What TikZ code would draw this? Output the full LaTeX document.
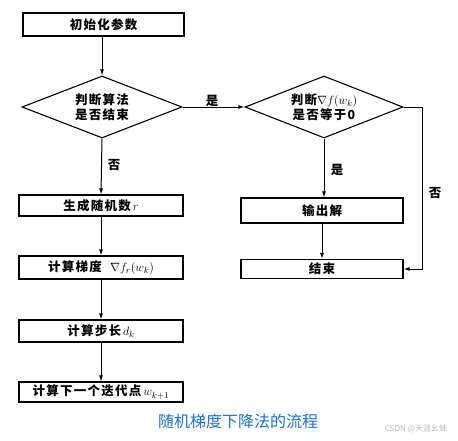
\documentclass[tikz,border=0pt]{standalone}
\usepackage{fontspec}
\newfontfamily\cjk{Noto Sans CJK SC}[LetterSpace=10]
\newfontfamily\cjkcap{Noto Sans CJK SC}
\usetikzlibrary{shapes.geometric,arrows.meta}
\definecolor{capblue}{RGB}{25,115,220}
\definecolor{wmgray}{RGB}{185,185,185}
\begin{document}
\begin{tikzpicture}[x=1pt,y=-1pt,
  every node/.style={font=\cjk\bfseries\fontsize{12.5}{15}\selectfont},
  box/.style={draw,line width=1.1pt,rectangle,inner sep=0pt,minimum width=164pt},
  dia/.style={draw,line width=1.1pt,diamond,aspect=2.6,inner sep=0pt,minimum width=160pt,minimum height=62pt,align=center},
  flow/.style={line width=1pt,-{Latex[length=6pt,width=4pt]}},
  lab/.style={inner sep=0pt}]
\useasboundingbox (0,0) rectangle (458,440);
\fill[white] (0,0) rectangle (458,440);
\node[box,minimum width=161pt,minimum height=23pt] (init) at (103.5,24.5) {初始化参数};
\node[dia] (d1) at (102,107) {判断算法\\是否结束};
\node[dia,minimum width=158pt] (d2) at (324,107) {判断$\nabla f(w_k)$\\是否等于0};
\node[box,minimum height=21pt] (gen) at (101,205.5) {生成随机数$\,r$};
\node[box,minimum height=23pt] (grad) at (101,267.5) {计算梯度\ \ $\nabla f_r(w_k)$};
\node[box,minimum height=22pt] (step) at (101,331) {计算步长$\,d_k$};
\node[box,minimum height=20pt] (next) at (101,392) {计算下一个迭代点$\,w_{k+1}$};
\node[box,minimum width=162pt,minimum height=25pt] (out) at (322,210.5) {输出解};
\node[box,minimum width=162pt,minimum height=19pt] (end) at (322,269) {结束};
\coordinate (c1) at (422,107);
\coordinate (c2) at (422,269);
\draw[flow] (init.south -| d1.north) -- (d1.north);
\draw[flow] (d1.south) -- (gen.north);
\draw[flow] (gen) -- (grad);
\draw[flow] (grad) -- (step);
\draw[flow] (step) -- (next);
\draw[flow] (d1.east) -- (d2.west);
\draw[flow] (d2.south) -- (out.north -| d2.south);
\draw[flow] (out) -- (end);
\draw[flow] (d2.east) -- (c1) -- (c2) -- (end.east);
\node[lab] (l1) at (212,101) {是};
\node[lab] (l2) at (114,165) {否};
\node[lab] (l3) at (337,170) {是};
\node[lab] (l4) at (435,193) {否};
\node[lab,text=capblue,font=\cjkcap\fontsize{16}{18}\selectfont] (cap) at (238,421) {随机梯度下降法的流程};
\node[lab,text=wmgray,font=\cjkcap\fontsize{8}{9}\selectfont] (wm) at (416,429) {CSDN @天涯幺妹};
\end{tikzpicture}
\end{document}
